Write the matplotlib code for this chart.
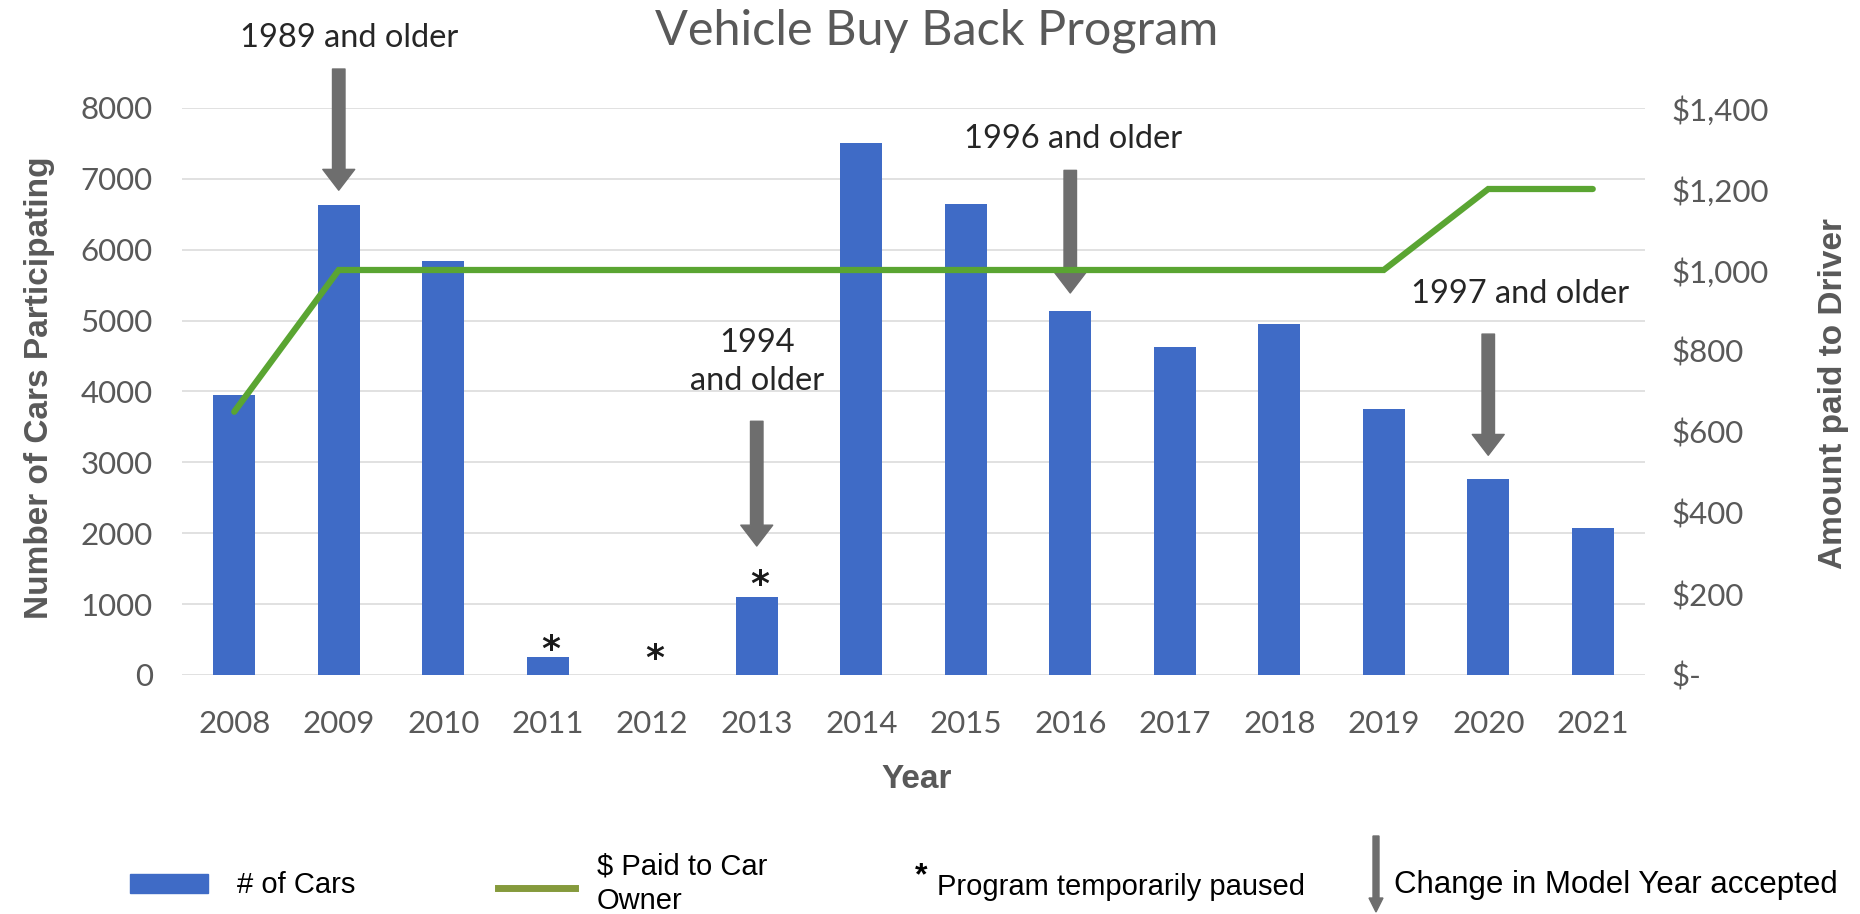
import matplotlib
matplotlib.use("Agg")
import matplotlib.pyplot as plt
from matplotlib.patches import Rectangle, FancyArrow
from matplotlib.lines import Line2D
from matplotlib.ticker import FuncFormatter

# ---------------- data ----------------
years = ["2008", "2009", "2010", "2011", "2012", "2013", "2014",
         "2015", "2016", "2017", "2018", "2019", "2020", "2021"]
cars = [3950, 6630, 5840, 250, 0, 1100, 7510,
        6640, 5140, 4630, 4950, 3760, 2770, 2070]
paid = [650, 1000, 1000, 1000, 1000, 1000, 1000,
        1000, 1000, 1000, 1000, 1000, 1200, 1200]
paused_years = ["2011", "2012", "2013"]
paused_offsets_pt = [-7, -0.5, -3.3]
change_years = ["2009", "2013", "2016", "2020"]
change_labels = ["1989 and older", "1994\nand older", "1996 and older", "1997 and older"]
arrow_tail = [8550, 3580, 7120, 4810]
arrow_tip = [6840, 1820, 5390, 3100]
label_y = [8990, 4420, 7560, 5370]
label_dx = [0.1, 0.0, 0.03, 0.3]

left_ticks = list(range(0, 8001, 1000))
right_ticks = list(range(0, 1401, 200))

# ---------------- style ----------------
W, H = 1860, 914
GRAY = "#595959"
BAR = "#3F6BC6"
GREEN = "#5AA532"
ARROW = "#6E6E6E"
FONT = "Lato"
TICK_FS = 22.5

fig = plt.figure(figsize=(W / 100, H / 100), dpi=100)
fig.patch.set_facecolor("white")

x0, x1, y0, y1 = 182, 1645, 108, 675
ax = fig.add_axes([x0 / W, 1 - y1 / H, (x1 - x0) / W, (y1 - y0) / H])
ax2 = ax.twinx()

xs = list(range(len(years)))
ax.bar(xs, cars, width=0.4, color=BAR, zorder=3)
ax.set_xlim(-0.5, len(years) - 0.5)
ax.set_ylim(0, 8000)
ax.set_yticks(left_ticks)
ax.set_xticks(xs)
ax.set_xticklabels(years)
ax.grid(axis="y", color="#dcdcdc", lw=1.2, zorder=0)
ax.set_axisbelow(True)
for s in ax.spines.values():
    s.set_visible(False)
for s in ax2.spines.values():
    s.set_visible(False)
ax.tick_params(axis="both", length=0, colors=GRAY, labelsize=TICK_FS)
ax.tick_params(axis="y", pad=21)
ax.tick_params(axis="x", pad=25)
for lab in ax.get_xticklabels() + ax.get_yticklabels():
    lab.set_fontfamily(FONT)

ax2.plot(xs, paid, color=GREEN, lw=4.5, solid_capstyle="round",
         solid_joinstyle="miter", zorder=5)
ax2.set_ylim(0, 1400)
ax2.set_yticks(right_ticks)
ax2.yaxis.set_major_formatter(FuncFormatter(lambda v, p: "$-" if v == 0 else f"${int(v):,}"))
ax2.tick_params(axis="y", length=0, colors=GRAY, labelsize=TICK_FS, pad=19)
for lab in ax2.get_yticklabels():
    lab.set_fontfamily(FONT)

# axis titles
fig.text(40 / W, 1 - 388 / H, "Number of Cars Participating", rotation=90,
         ha="center", va="center", fontsize=24, fontweight="bold",
         color=GRAY, family="Liberation Sans")
fig.text(1833 / W, 1 - 394 / H, "Amount paid to Driver", rotation=90,
         ha="center", va="center", fontsize=24, fontweight="bold",
         color=GRAY, family="Liberation Sans")
fig.text(917 / W, 1 - 779 / H, "Year", ha="center", va="center",
         fontsize=24, fontweight="bold", color=GRAY, family="Liberation Sans")

# title
fig.text(937 / W, 1 - 31 / H, "Vehicle Buy Back Program", ha="center",
         va="center", fontsize=35, color=GRAY, family=FONT)

# paused asterisks
for yr, off in zip(paused_years, paused_offsets_pt):
    i = years.index(yr)
    ax.annotate("*", xy=(i, cars[i]), xytext=(2, off), textcoords="offset points",
                ha="center", va="bottom", fontsize=26, fontweight="bold",
                color="#1a1a1a", family="DejaVu Sans", zorder=6)

# model-year change arrows
for yr, lab, tail, tip, ly, dx in zip(change_years, change_labels, arrow_tail,
                                       arrow_tip, label_y, label_dx):
    i = years.index(yr)
    ax.annotate("", xy=(i, tip), xytext=(i, tail),
                arrowprops=dict(facecolor=ARROW, edgecolor=ARROW, width=9,
                                headwidth=23, headlength=15, shrink=0),
                annotation_clip=False, zorder=7)
    ax.text(i + dx, ly, lab, ha="center", va="center", fontsize=23.5,
            color="#262626", family=FONT, linespacing=1.35, clip_on=False, zorder=7)

# ---------------- legend ----------------
LEG_FS = 21
fig.patches.append(Rectangle((130 / W, 1 - 893 / H), 78 / W, 19 / H,
                             transform=fig.transFigure, color=BAR))
fig.text(237 / W, 1 - 885 / H, "# of Cars", ha="left", va="center",
         fontsize=LEG_FS, color="black", family="Liberation Sans")
fig.lines.append(Line2D([498 / W, 575 / W], [1 - 888 / H, 1 - 888 / H],
                        transform=fig.transFigure, color="#859A3C", lw=5))
fig.text(597 / W, 1 - 884 / H, "$ Paid to Car\nOwner", ha="left", va="center",
         fontsize=LEG_FS, color="black", family="Liberation Sans", linespacing=1.3)
fig.text(921 / W, 1 - 876 / H, "*", ha="center", va="center",
         fontsize=23, fontweight="bold", color="black", family="Liberation Sans")
fig.text(937 / W, 1 - 887 / H, "Program temporarily paused", ha="left",
         va="center", fontsize=LEG_FS, color="black", family="Liberation Sans")
fig.patches.append(FancyArrow(1376 / W, 1 - 836 / H, 0, -(76 / H),
                              width=6 / W, head_width=14 / W, head_length=14 / H,
                              length_includes_head=True, transform=fig.transFigure,
                              color=ARROW))
fig.text(1394 / W, 1 - 885 / H, "Change in Model Year accepted", ha="left",
         va="center", fontsize=22.5, color="black", family="Liberation Sans")

fig.savefig("out.png", dpi=100, facecolor="white")
